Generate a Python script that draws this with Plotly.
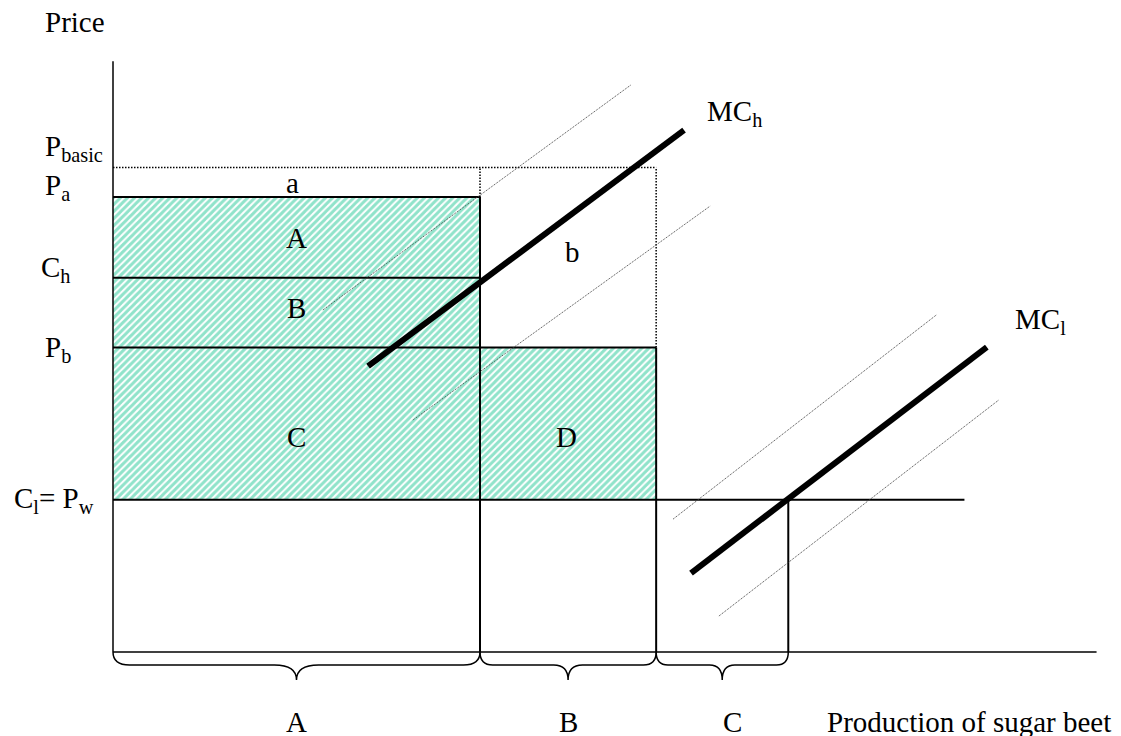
import plotly.graph_objects as go

# quantity boundaries on the production axis: origin, end of A, end of B, end of C
quantity_marks = [0.0, 10.0, 14.8, 18.4]
quantity_labels = ['A', 'B', 'C']

# price levels on the vertical axis
p_basic = 13.2
p_a = 12.4
c_h = 10.2
p_b = 8.3
c_l = 4.15

axis_q_max = 26.8
axis_p_max = 16.1
world_line_end = 23.2

# marginal cost curves (end points) and their dotted shifted copies
mc_h_q = [6.95, 15.56]
mc_h_p = [7.79, 14.22]
mc_h_upper_q = [5.72, 14.11]
mc_h_upper_p = [9.32, 15.45]
mc_h_lower_q = [8.17, 16.27]
mc_h_lower_p = [6.32, 12.15]

mc_l_q = [15.75, 23.81]
mc_l_p = [2.15, 8.31]
mc_l_upper_q = [15.26, 22.43]
mc_l_upper_p = [3.62, 9.18]
mc_l_lower_q = [16.51, 24.14]
mc_l_lower_p = [0.98, 6.87]

PX = 36.7  # pixels per unit
W, H = 1121, 736
X0, Y0 = 113, 652  # where the origin sits on the page
FONT = 'Liberation Serif'
FS = 29

q0, qa, qb, qc = quantity_marks

fig = go.Figure()

# hatched areas A+B+C and D
fig.add_trace(go.Scatter(
    x=[q0, q0, qa, qa, qb, qb, q0],
    y=[c_l, p_a, p_a, p_b, p_b, c_l, c_l],
    mode='lines', fill='toself', line=dict(width=0),
    fillpattern=dict(shape='/', fgcolor='#22c796', bgcolor='white', size=5, solidity=0.6),
    hoverinfo='skip'))


def seg(x0, y0, x1, y1, width=2, dash='solid', color='black'):
    fig.add_shape(type='line', xref='x', yref='y', x0=x0, y0=y0, x1=x1, y1=y1,
                  line=dict(color=color, width=width, dash=dash))


# axes
seg(q0, 0, q0, axis_p_max, 1.5)
seg(q0, 0, axis_q_max, 0, 1.5)

# price lines
seg(q0, p_a, qa, p_a)
seg(q0, c_h, qa, c_h)
seg(q0, p_b, qb, p_b)
seg(q0, c_l, world_line_end, c_l)
seg(qa, 0, qa, p_a)
seg(qb, 0, qb, p_b)
seg(qc, 0, qc, c_l)

# basic price (dotted)
seg(q0, p_basic, qb, p_basic, 1.5, '1.5px,1.5px')
seg(qa, p_a, qa, p_basic, 1.5, '1.5px,1.5px')
seg(qb, p_b, qb, p_basic, 1.5, '1.5px,1.5px')

# dotted shifted MC curves
for xs, ys in [(mc_h_upper_q, mc_h_upper_p), (mc_h_lower_q, mc_h_lower_p),
               (mc_l_upper_q, mc_l_upper_p), (mc_l_lower_q, mc_l_lower_p)]:
    seg(xs[0], ys[0], xs[1], ys[1], 1, '1px,1px', '#444')

# MC curves
seg(mc_h_q[0], mc_h_p[0], mc_h_q[1], mc_h_p[1], 6)
seg(mc_l_q[0], mc_l_p[0], mc_l_q[1], mc_l_p[1], 6)

# curly braces under the axis
ym = -13 / PX
yt = -28 / PX
for left, right in zip(quantity_marks[:-1], quantity_marks[1:]):
    w = right - left
    r = 0.25 + 0.02 * w
    c = 0.2 + 0.04 * w
    xm = (left + right) / 2
    path = (f'M {left},0 Q {left},{ym} {left + r},{ym} L {xm - c},{ym} '
            f'Q {xm},{ym} {xm},{yt} Q {xm},{ym} {xm + c},{ym} '
            f'L {right - r},{ym} Q {right},{ym} {right},0')
    fig.add_shape(type='path', xref='x', yref='y', path=path,
                  line=dict(color='black', width=1.5))


def label(text, x, y, xanchor='center'):
    fig.add_annotation(x=x, y=y, xref='x', yref='y', text=text, showarrow=False,
                       xanchor=xanchor, yanchor='middle',
                       font=dict(family=FONT, size=FS, color='black'))


label('Price', -1.91, 17.17, 'left')
label('P<sub>basic</sub>', -1.91, 13.73, 'left')
label('P<sub>a</sub>', -1.91, 12.67, 'left')
label('C<sub>h</sub>', -2.02, 10.44, 'left')
label('P<sub>b</sub>', -1.91, 8.26, 'left')
label('C<sub>l</sub>= P<sub>w</sub>', -2.75, 4.14, 'left')

label('a', 4.88, 12.79)
label('A', 5.01, 11.28)
label('B', 4.99, 9.37)
label('C', 4.99, 5.86)
label('D', 12.37, 5.86)
label('b', 12.51, 10.89)
label('MC<sub>h</sub>', 16.13, 14.69, 'left')
label('MC<sub>l</sub>', 24.52, 9.02, 'left')

# labels under the braces (the last one sits a little right of its brace tip)
for name, x in zip(quantity_labels, [4.99, 12.4, 16.87]):
    label(name, x, -1.91)
label('Production of sugar beet', 19.40, -1.91, 'left')

fig.update_layout(
    width=W, height=H,
    margin=dict(l=0, r=0, t=0, b=0),
    paper_bgcolor='white', plot_bgcolor='white',
    showlegend=False,
    xaxis=dict(visible=False, range=[-X0 / PX, (W - X0) / PX]),
    yaxis=dict(visible=False, range=[-(H - Y0) / PX, Y0 / PX]),
)

# drop the browser's default body margin so the figure sits at the page corner
fig.write_html("out.html", config={'displayModeBar': False},
               post_script="document.body.style.margin='0';document.body.style.overflow='hidden';")
